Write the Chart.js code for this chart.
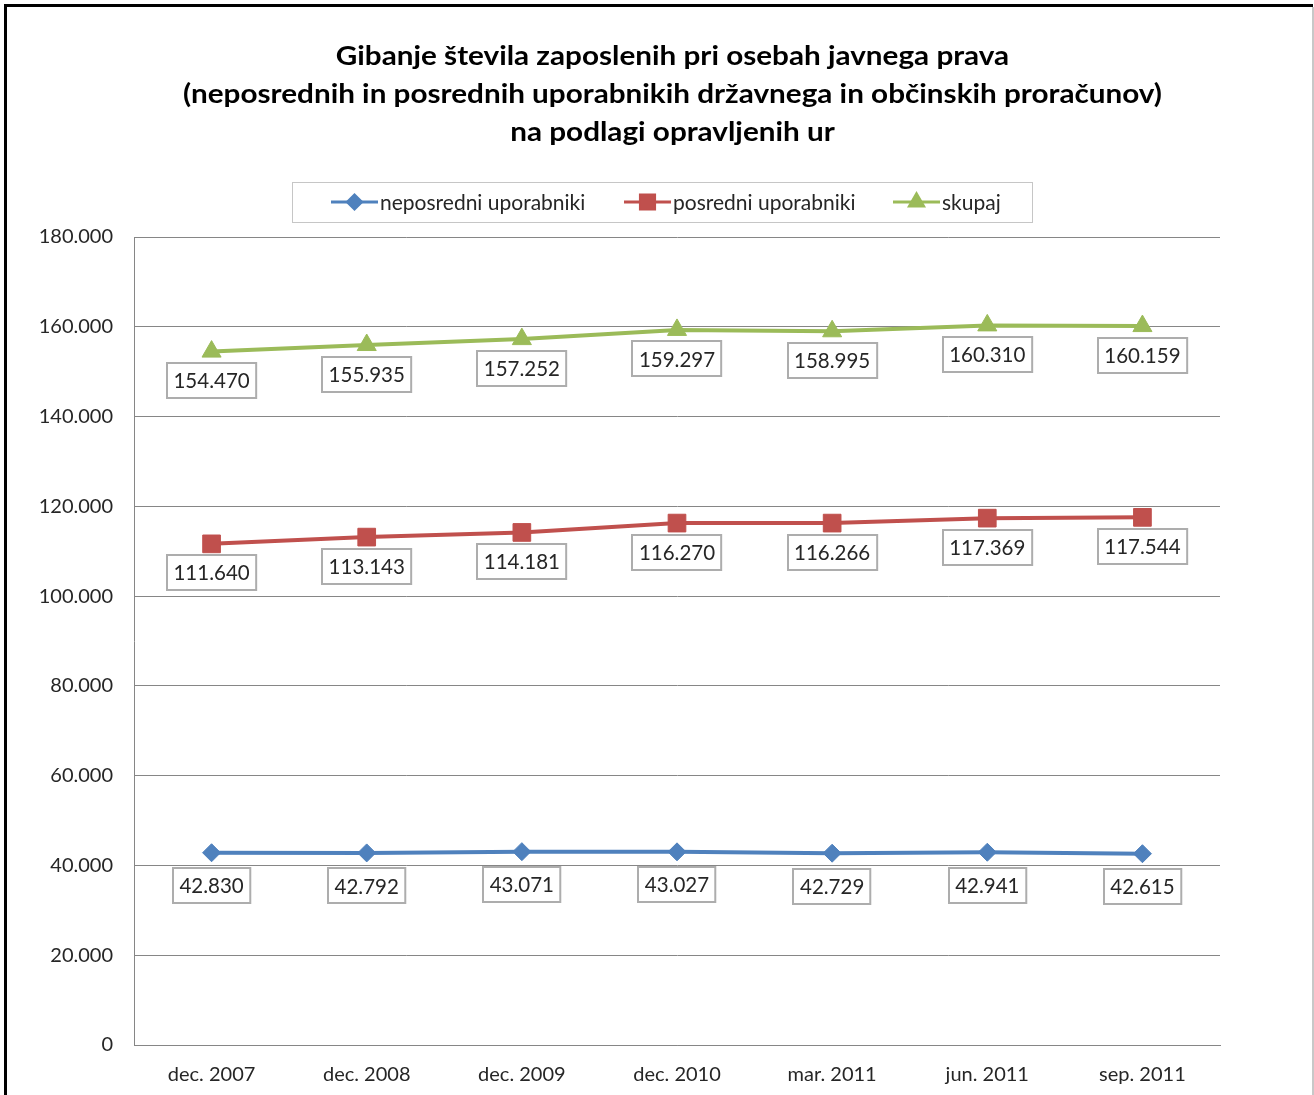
<!DOCTYPE html>
<html><head><meta charset="utf-8">
<script src="https://cdn.jsdelivr.net/npm/chart.js@4/dist/chart.umd.min.js"></script>
<style>html,body{margin:0;padding:0;background:#fff;overflow:hidden}</style>
</head><body>
<canvas id="c" width="1314" height="1095" style="display:block;width:1314px;height:1095px"></canvas>
<script>
const titleLines = [
  'Gibanje števila zaposlenih pri osebah javnega prava',
  '(neposrednih in posrednih uporabnikih državnega in občinskih proračunov)',
  'na podlagi opravljenih ur'
];
const categories = ['dec. 2007','dec. 2008','dec. 2009','dec. 2010','mar. 2011','jun. 2011','sep. 2011'];
const seriesNames = ['neposredni uporabniki','posredni uporabniki','skupaj'];
const neposredni = [42830, 42792, 43071, 43027, 42729, 42941, 42615];
const posredni   = [111640, 113143, 114181, 116270, 116266, 117369, 117544];
const skupaj     = [154470, 155935, 157252, 159297, 158995, 160310, 160159];
const yMin = 0, yMax = 180000, yStep = 20000;

const FONT = 'Lato, "Open Sans", sans-serif';
const TEXT = '#262626';
const GRID = '#868686';

function fmt(v){ return String(Math.round(v)).replace(/\B(?=(\d{3})+(?!\d))/g, '.'); }

const decor = {
  id: 'decor',
  beforeDraw(chart){
    const ctx = chart.ctx;
    ctx.save();
    ctx.fillStyle = '#fff';
    ctx.fillRect(0,0,chart.width,chart.height);
    ctx.restore();
  },
  afterDatasetsDraw(chart){
    const ctx = chart.ctx;
    const offsets = [33, 29, 29];
    ctx.save();
    ctx.font = '20.5px ' + FONT;
    ctx.textAlign = 'center';
    ctx.textBaseline = 'middle';
    chart.data.datasets.forEach((ds, di) => {
      const meta = chart.getDatasetMeta(di);
      meta.data.forEach((el, i) => {
        const txt = fmt(ds.data[i]);
        const w = ctx.measureText(txt).width + 13;
        const h = 35;
        const cx = el.x, cy = el.y + offsets[di];
        const x = Math.round(cx - w/2), y = Math.round(cy - h/2);
        ctx.fillStyle = '#fff';
        ctx.fillRect(x, y, w, h);
        ctx.strokeStyle = '#ADADAD';
        ctx.lineWidth = 2;
        ctx.strokeRect(x, y, w, h);
        ctx.fillStyle = TEXT;
        ctx.fillText(txt, cx, cy + 1);
      });
    });
    ctx.restore();
  },
  afterDraw(chart){
    const ctx = chart.ctx;
    ctx.save();
    // frame
    ctx.fillStyle = '#000';
    ctx.fillRect(4, 4, 1309, 3);
    ctx.fillRect(4, 4, 3, 1091);
    ctx.fillStyle = '#C8C8C8';
    ctx.fillRect(1312, 7, 2, 1088);
    // title
    ctx.fillStyle = '#000';
    ctx.textAlign = 'center';
    ctx.textBaseline = 'middle';
    ctx.font = 'bold 26px ' + FONT;
    const target = 979;
    const sx = target / ctx.measureText(titleLines[1]).width;
    const ys = [57, 95, 133];
    titleLines.forEach((t, i) => {
      ctx.save();
      ctx.translate(672.5, ys[i]);
      ctx.scale(sx, 1);
      ctx.fillText(t, 0, 0);
      ctx.restore();
    });
    // legend
    ctx.strokeStyle = '#C6C6C6';
    ctx.lineWidth = 1;
    ctx.strokeRect(292.5, 182.5, 740, 40);
    const xs = [331, 624, 893];
    const mr = [7, 10, 8];
    const ly = 202;
    ctx.font = '21px ' + FONT;
    ctx.textAlign = 'left';
    chart.data.datasets.forEach((ds, i) => {
      const x0 = xs[i];
      ctx.strokeStyle = ds.borderColor;
      ctx.lineWidth = 3;
      ctx.beginPath();
      ctx.moveTo(x0, ly); ctx.lineTo(x0 + 47, ly);
      ctx.stroke();
      ctx.fillStyle = ds.borderColor;
      Chart.helpers.drawPoint(ctx, {pointStyle: ds.pointStyle, radius: mr[i], borderWidth: 1, rotation: 0}, x0 + 23.5, ly);
      ctx.fill();
      ctx.fillStyle = TEXT;
      ctx.fillText(ds.label, x0 + 49, ly + 1);
    });
    ctx.restore();
  }
};

const colors = ['#4F81BD', '#C0504D', '#9BBB59'];
const styles = ['rectRot', 'rect', 'triangle'];
const radii = [9, 12.5, 11];
const values = [neposredni, posredni, skupaj];

new Chart(document.getElementById('c'), {
  type: 'line',
  data: {
    labels: categories,
    datasets: values.map((v, i) => ({
      label: seriesNames[i],
      data: v,
      borderColor: colors[i],
      backgroundColor: colors[i],
      pointBackgroundColor: colors[i],
      pointBorderColor: colors[i],
      pointStyle: styles[i],
      pointRadius: radii[i],
      pointHoverRadius: radii[i],
      pointBorderWidth: 1,
      borderWidth: 4,
      tension: 0,
      fill: false
    }))
  },
  options: {
    responsive: false,
    animation: false,
    devicePixelRatio: 1,
    layout: { padding: { top: 237, right: 94, bottom: 0, left: 0 } },
    plugins: { legend: { display: false }, title: { display: false }, tooltip: { enabled: false } },
    scales: {
      x: {
        offset: true,
        grid: { display: false, drawTicks: false },
        border: { display: true, color: GRID, width: 1 },
        ticks: { color: TEXT, font: { family: FONT, size: 20 }, padding: 18, maxRotation: 0, autoSkip: false },
        afterFit(s){ s.height = 50; }
      },
      y: {
        min: yMin, max: yMax,
        grid: { color: GRID, lineWidth: 1, drawTicks: false },
        border: { display: true, color: GRID, width: 1 },
        ticks: { stepSize: yStep, color: TEXT, font: { family: FONT, size: 20 }, padding: 21, callback: v => fmt(v) },
        afterFit(s){ s.width = 134; }
      }
    }
  },
  plugins: [decor]
});
</script>
</body></html>
